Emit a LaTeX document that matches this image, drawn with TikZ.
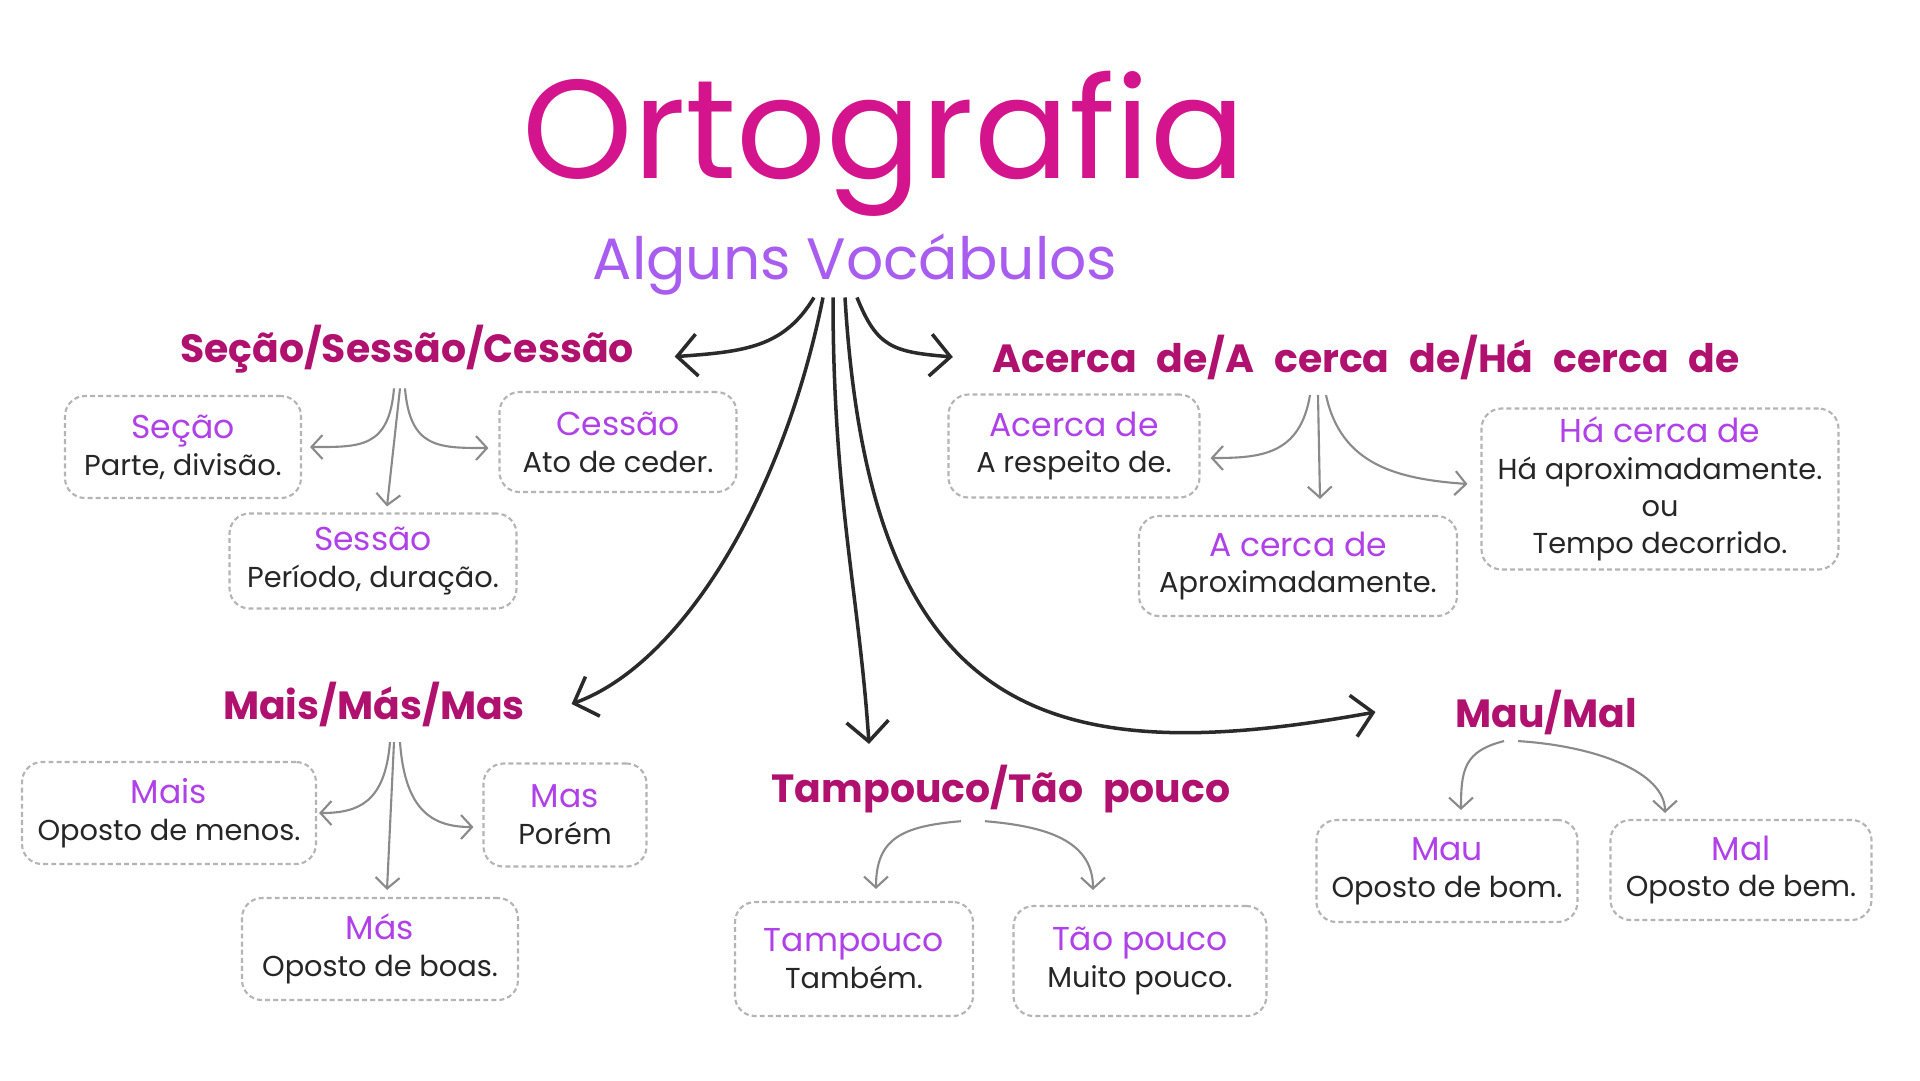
\documentclass[tikz,border=0pt]{standalone}
\usepackage{fontspec}
\setmainfont{Poppins}
\usepackage{xcolor}
\usetikzlibrary{arrows.meta}
\definecolor{titlemag}{HTML}{D4148C}
\definecolor{headmag}{HTML}{B0106E}
\definecolor{vocviolet}{HTML}{A85CF0}
\definecolor{entryviolet}{HTML}{B040E8}
\definecolor{boxgray}{HTML}{B4B4B4}
\definecolor{subgray}{HTML}{8A8A8A}
\definecolor{linkblack}{HTML}{2A2A2A}
\newcommand{\entry}[2]{{\color{entryviolet}\fontsize{9.4}{11}\selectfont #1}\\#2}
\protected\def\widespace{\spaceskip=0.5em\relax}
\tikzset{
  ort title/.style={
    text=titlemag,
    font=\fontsize{40}{44}\selectfont,
    inner sep=0pt,
    anchor=base,
  },
  ort sub/.style={
    text=vocviolet,
    font=\fontsize{16.6}{19}\selectfont,
    inner sep=0pt,
    anchor=base,
  },
  ort head/.style={
    text=headmag,
    font=\bfseries\fontsize{11.2}{13}\selectfont\widespace,
    inner sep=0pt,
    anchor=base,
  },
  ort box/.style={
    draw=boxgray,
    dash pattern=on 1.4pt off 0.9pt,
    line width=0.6pt,
    rounded corners=2mm,
    align=center,
    text=black!85,
    font=\fontsize{8.2}{10.5}\selectfont,
    inner sep=2pt,
  },
  ort link/.style={-{Straight Barb[length=2mm,width=4.2mm]}, line width=1pt, draw=linkblack},
  ort sublink/.style={-{Straight Barb[length=1.1mm,width=2.4mm]}, line width=0.6pt, draw=subgray},
}

\begin{document}
\begin{tikzpicture}[x=0.1mm,y=-0.1mm]
  \useasboundingbox[fill=white] (0,0) rectangle (1920,1080);

  \node[ort title] (orto) at (884,178) {Ortografia};
  \node[ort sub] (voc) at (855,279) {Alguns Vocábulos};

  % group headings
  \node[ort head] (sechead) at (407,362) {Seção/Sessão/Cessão};
  \node[ort head] (acehead) at (1366,372) {Acerca de/A cerca de/Há cerca de};
  \node[ort head] (maishead) at (374,719) {Mais/Más/Mas};
  \node[ort head] (tamphead) at (1001,802) {Tampouco/Tão pouco};
  \node[ort head] (mauhead) at (1546,727) {Mau/Mal};

  % boxes
  \node[ort box,minimum width=23.6mm,minimum height=10.2mm] (secao) at (183,447) {\entry{Seção}{Parte, divisão.}};
  \node[ort box,minimum width=23.7mm,minimum height=10mm] (cessao) at (618,442) {\entry{Cessão}{Ato de ceder.}};
  \node[ort box,minimum width=28.7mm,minimum height=9.5mm] (sessao) at (373,561) {\entry{Sessão}{Período, duração.}};

  \node[ort box,minimum width=25.1mm,minimum height=10.3mm] (acerca) at (1074,446) {\entry{Acerca de}{A respeito de.}};
  \node[ort box,minimum width=31.8mm,minimum height=10mm] (acerca2) at (1298,566) {\entry{A cerca de}{Aproximadamente.}};
  \node[ort box,minimum width=35.7mm,minimum height=16.1mm] (hacerca) at (1660,489) {\entry{Há cerca de}{Há aproximadamente.\\ou\\Tempo decorrido.}};

  \node[ort box,minimum width=29.4mm,minimum height=10.2mm] (mais) at (169,813) {\entry{Mais}{Oposto de menos.}};
  \node[ort box,minimum width=16.3mm,minimum height=10.3mm] (mas) at (565,815) {\entry{Mas}{Porém}};
  \node[ort box,minimum width=27.6mm,minimum height=10.2mm] (mas2) at (380,949) {\entry{Más}{Oposto de boas.}};

  \node[ort box,minimum width=23.8mm,minimum height=11.4mm] (tampouco) at (854,959) {\entry{Tampouco}{Também.}};
  \node[ort box,minimum width=25.3mm,minimum height=11mm] (taopouco) at (1140,961) {\entry{Tão pouco}{Muito pouco.}};

  \node[ort box,minimum width=26.1mm,minimum height=10.2mm] (mau) at (1447,871) {\entry{Mau}{Oposto de bom.}};
  \node[ort box,minimum width=26.1mm,minimum height=10mm] (mal) at (1741,870) {\entry{Mal}{Oposto de bem.}};

  % main links
  \draw[ort link] ([xshift=-4.1mm,yshift=-0.2mm]voc.south) .. controls +(-30,50) and +(70,-5) .. ([xshift=4mm,yshift=-0.8mm]sechead.east);
  \draw[ort link] ([xshift=0.2mm,yshift=-0.2mm]voc.south) .. controls +(20,50) and +(-60,-5) .. ([xshift=-3.9mm]acehead.west);
  \draw[ort link] ([xshift=-3.2mm,yshift=-0.2mm]voc.south) .. controls +(-40,200) and +(110,-40) .. ([xshift=4.6mm]maishead.east);
  \draw[ort link] ([xshift=-2.2mm,yshift=-0.2mm]voc.south) .. controls +(0,200) and +(-10,-150) .. ([xshift=-13.2mm,yshift=2mm]tamphead.north);
  \draw[ort link] ([xshift=-1mm,yshift=-0.2mm]voc.south) .. controls +(25,420) and +(-330,60) .. ([xshift=-7.9mm]mauhead.west);

  % sub links
  \draw[ort sublink] ([xshift=-1.3mm,yshift=-1.5mm]sechead.south) .. controls +(-5,60) and +(50,0) .. ([xshift=0.8mm]secao.east);
  \draw[ort sublink] ([xshift=-0.7mm,yshift=-1.5mm]sechead.south) -- ([xshift=1.4mm,yshift=0.6mm]sessao.north);
  \draw[ort sublink] ([xshift=-0.2mm,yshift=-1.5mm]sechead.south) .. controls +(5,60) and +(-50,0) .. ([xshift=-1mm,yshift=-0.6mm]cessao.west);

  \draw[ort sublink] ([xshift=-5.6mm,yshift=-1.5mm]acehead.south) .. controls +(-10,60) and +(50,0) .. ([xshift=1mm,yshift=-1.2mm]acerca.east);
  \draw[ort sublink] ([xshift=-4.8mm,yshift=-1.5mm]acehead.south) -- ([xshift=2.2mm,yshift=1.6mm]acerca2.north);
  \draw[ort sublink] ([xshift=-4mm,yshift=-1.5mm]acehead.south) .. controls +(15,70) and +(-70,-5) .. ([xshift=-1.3mm,yshift=0.5mm]hacerca.west);

  \draw[ort sublink] ([xshift=1.6mm,yshift=-1.5mm]maishead.south) .. controls +(-5,60) and +(40,0) .. ([xshift=0.2mm]mais.east);
  \draw[ort sublink] ([xshift=2mm,yshift=-1.5mm]maishead.south) -- ([xshift=0.7mm,yshift=0.7mm]mas2.north);
  \draw[ort sublink] ([xshift=2.6mm,yshift=-1.5mm]maishead.south) .. controls +(5,70) and +(-40,0) .. ([xshift=-0.9mm,yshift=-1.2mm]mas.west);

  \draw[ort sublink] ([xshift=-4mm,yshift=-0.8mm]tamphead.south) .. controls +(-60,5) and +(0,-50) .. ([xshift=2.2mm,yshift=1.2mm]tampouco.north);
  \draw[ort sublink] ([xshift=-1.6mm,yshift=-0.8mm]tamphead.south) .. controls +(60,5) and +(0,-50) .. ([xshift=-4.7mm,yshift=1.5mm]taopouco.north);

  \draw[ort sublink] ([xshift=-4.2mm,yshift=-0.6mm]mauhead.south) .. controls +(-40,10) and +(0,-40) .. ([xshift=1.4mm,yshift=0.9mm]mau.north);
  \draw[ort sublink] ([xshift=-2.8mm,yshift=-0.6mm]mauhead.south) .. controls +(80,5) and +(0,-40) .. ([xshift=-7.6mm,yshift=0.6mm]mal.north);
\end{tikzpicture}
\end{document}
